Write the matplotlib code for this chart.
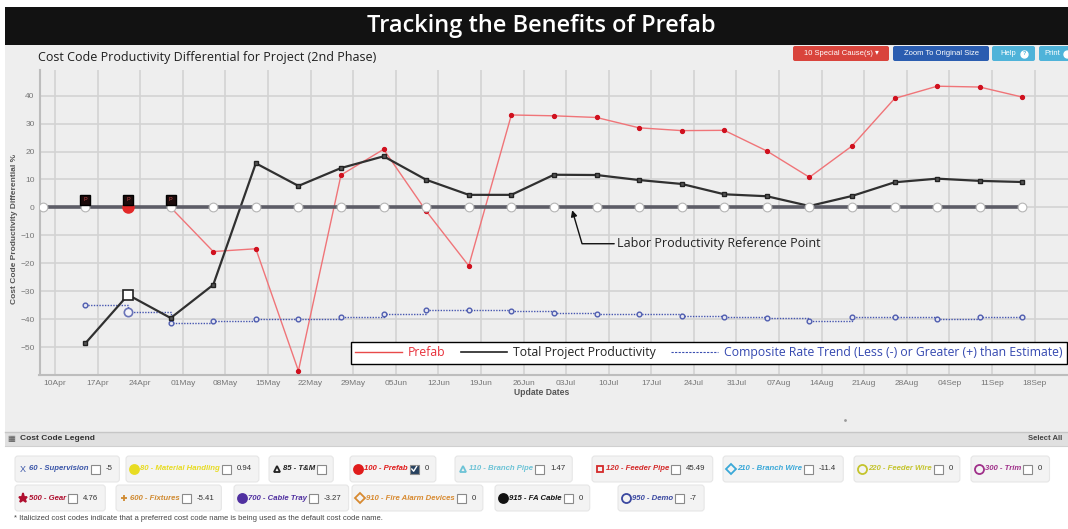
import datetime as dt
import numpy as np
import matplotlib
matplotlib.use("Agg")
import matplotlib.pyplot as plt
import matplotlib.dates as mdates
from matplotlib.lines import Line2D
from matplotlib.patches import Rectangle, FancyBboxPatch

plt.rcParams['font.family'] = ['Liberation Sans', 'DejaVu Sans']

W, H = 1068, 529

# ==============================
# 1. DATA
# ==============================
update_dates = ["2019-04-08", "2019-04-15", "2019-04-22", "2019-04-29",
                "2019-05-06", "2019-05-13", "2019-05-20", "2019-05-27",
                "2019-06-03", "2019-06-10", "2019-06-17", "2019-06-24",
                "2019-07-01", "2019-07-08", "2019-07-15", "2019-07-22",
                "2019-07-29", "2019-08-05", "2019-08-12", "2019-08-19",
                "2019-08-26", "2019-09-02", "2019-09-09", "2019-09-16"]
nan = np.nan
prefab = [nan, nan, nan, 0, -15.8, -14.8, -58.5, 11.6, 20.8, -1.3, -20.9, 33.1,
          32.8, 32.2, 28.5, 27.5, 27.6, 20.2, 10.8, 22.0, 39.0, 43.4, 43.1, 39.5]
total_project = [nan, -48.6, -31.3, -39.6, -27.7, 15.8, 7.7, 14.1, 18.3, 9.9, 4.5, 4.5,
                 11.7, 11.6, 9.8, 8.4, 4.7, 4.0, 0.5, 4.1, 9.0, 10.3, 9.5, 9.1]
composite_rate = [nan, -35.1, -37.6, -41.4, -40.6, -40.1, -39.9, -39.4, -38.2, -36.6,
                  -36.9, -37.2, -37.8, -38.3, -38.2, -38.8, -39.2, -39.5, -40.5,
                  -39.2, -39.3, -39.8, -39.3, -39.3]
reference = [0, 0, 0, 0, 0, 0, 0, 0, 0, 0, 0, 0,
             0, 0, 0, 0, 0, 0, 0, 0, 0, 0, 0, 0]

selected_idx = 2            # highlighted update
prefab_selected_value = 0
special_cause_idx = [1, 2, 3]
special_cause_value = 2.7

ref_arrow_date = "2019-07-04"
ref_arrow_value = -1

legend_labels = ["Prefab", "Total Project Productivity",
                 "Composite Rate Trend (Less (-) or Greater (+) than Estimate)"]

# cost code legend
cc_codes = ["60", "80", "85", "100", "110", "120", "210", "220", "300",
            "500", "600", "700", "910", "915", "950"]
cc_names = ["Supervision", "Material Handling", "T&M", "Prefab", "Branch Pipe",
            "Feeder Pipe", "Branch Wire", "Feeder Wire", "Trim",
            "Gear", "Fixtures", "Cable Tray", "Fire Alarm Devices", "FA Cable", "Demo"]
cc_values = ["-5", "0.94", "", "0", "1.47", "45.49", "-11.4", "0", "0",
             "4.76", "-5.41", "-3.27", "0", "0", "-7"]
cc_checked = [False, False, False, True, False, False, False, False, False,
              False, False, False, False, False, False]

# styles / layout of the cost code legend (kept apart from the values)
cc_colors = ["#3a55a8", "#e8dc22", "#222222", "#e01b1b", "#6cc3d6", "#d42a2a",
             "#3aa8d8", "#c4c42c", "#a0308a", "#b01030", "#d08a30", "#5030a0",
             "#d88a30", "#111111", "#3a48a0"]
cc_markers = ["X", "o", "^", "o", "^", "s", "D", "o", "o", "*", "+", "o", "D", "o", "o"]
cc_filled = [True, True, False, True, False, False, False, False, False,
             True, True, True, False, True, False]
cc_row = [0, 0, 0, 0, 0, 0, 0, 0, 0, 1, 1, 1, 1, 1, 1]
cc_left = [15, 126, 269, 350, 455, 592, 723, 854, 971,
           15, 116, 234, 352, 495, 618]

# ==============================
# 2. FIGURE + PAGE BACKGROUND
# ==============================
fig = plt.figure(figsize=(W / 100, H / 100), dpi=100, facecolor="white")
bg = fig.add_axes([0, 0, 1, 1], zorder=0)
bg.set_xlim(0, W)
bg.set_ylim(H, 0)
bg.axis("off")


def box(x0, y0, x1, y1, **kw):
    bg.add_patch(Rectangle((x0, y0), x1 - x0, y1 - y0, **kw))


box(5, 45, W, 432, fc="#eeeeee", ec="none")
box(5, 7, W, 45, fc="#121212", ec="none")
box(5, 432, W, 446, fc="#e0e0e0", ec="none")
bg.plot([5, W], [432, 432], color="#c6c6c6", lw=1)
bg.plot([5, W], [446, 446], color="#d0d0d0", lw=0.8)

bg.text(541, 26, "Tracking the Benefits of Prefab", color="white", fontsize=17,
        family="Open Sans", weight="semibold", ha="center", va="center")
bg.text(38, 58, "Cost Code Productivity Differential for Project (2nd Phase)",
        color="#1e1e1e", fontsize=9, family="Open Sans", ha="left", va="center")

# buttons (the last one is cut by the screenshot edge)
buttons = [("10 Special Cause(s) \u25be", 793, 889, "#d9443c"),
           ("Zoom To Original Size", 893, 989, "#2b5db0"),
           ("Help", 992, 1035, "#4fb3d9"),
           ("Print", 1039, 1080, "#4fb3d9")]
for label, x0, x1, col in buttons:
    bg.add_patch(FancyBboxPatch((x0, 46), x1 - x0, 15,
                                boxstyle="round,pad=0,rounding_size=2",
                                fc=col, ec="none"))
    if label == "Help":
        bg.text(x0 + 8, 53.5, label, color="white", fontsize=5.5, va="center")
        bg.plot(x0 + 32, 53.5, "o", ms=5, color="white")
        bg.text(x0 + 32, 53.8, "?", color=col, fontsize=4, weight="bold",
                ha="center", va="center")
    elif label == "Print":
        bg.text(x0 + 5, 53.5, label, color="white", fontsize=5.5, va="center")
        bg.plot(x0 + 28, 53.5, "o", ms=5, color="white")
    else:
        bg.text((x0 + x1) / 2, 53.5, label, color="white", fontsize=5.5,
                ha="center", va="center")

bg.plot(845, 420, ".", color="#9a9a9a", ms=2)

# ==============================
# 3. MAIN CHART
# ==============================
ax = fig.add_axes([39.5 / W, 1 - 375 / H, (W - 39.5) / W, (375 - 70) / H], zorder=1)
ax.set_facecolor("#eeeeee")

dates = [dt.datetime.strptime(d, "%Y-%m-%d") for d in update_dates]
x_first = mdates.date2num(dates[0])

ax.plot(dates, prefab, color="#f07478", lw=1, marker="o", ms=2.8,
        mfc="#d0101e", mec="#d0101e", zorder=3)
ax.plot(dates, composite_rate, color="#4656b0", lw=1, ls=(0, (1, 1)),
        drawstyle="steps-post", zorder=3)
ax.plot(dates, composite_rate, ls="none", marker="o", ms=3.4, mfc="#e6e6f0",
        mec="#4f5db0", mew=1, zorder=3)
ax.plot(dates, total_project, color="#303030", lw=1.6, marker="s", ms=2.6,
        mfc="#555555", mec="#222222", zorder=4)
ax.plot(dates, reference, color="#5c5c66", lw=2.6, marker="o", ms=6.3,
        mfc="white", mec="#b5b5b5", mew=0.8, zorder=5)

sel = dates[selected_idx]
ax.plot(sel, prefab_selected_value, "o", ms=8, color="#e22828", zorder=6)
ax.plot(sel, total_project[selected_idx], "s", ms=7, mfc="white", mec="#222222",
        mew=1.2, zorder=6)
ax.plot(sel, composite_rate[selected_idx], "o", ms=6, mfc="#f4f4f8", mec="#6a74b8",
        mew=1.2, zorder=6)

sc_dates = [dates[i] for i in special_cause_idx]
ax.plot(sc_dates, [special_cause_value] * len(sc_dates), "s", ms=7,
        mfc="#1c0c0c", mec="#000000", zorder=7)
for d in sc_dates:
    ax.text(d, special_cause_value, "P", fontsize=4, color="#c84a4a",
            ha="center", va="center", zorder=8)

ax.set_xlim(x_first - 0.56, x_first + 168.5)
ax.set_ylim(-60, 49.2)
ax.xaxis.set_major_locator(mdates.WeekdayLocator(byweekday=mdates.WE))
ax.xaxis.set_major_formatter(mdates.DateFormatter("%d%b"))
ax.set_yticks(range(-50, 41, 10))
ax.grid(True, color="#d3d3d3", lw=1.2)
ax.set_axisbelow(True)
ax.tick_params(length=0, labelsize=6, labelcolor="#777777", pad=3.5)
for s in ["top", "right"]:
    ax.spines[s].set_visible(False)
for s in ["left", "bottom"]:
    ax.spines[s].set_color("#bdbdbd")
    ax.spines[s].set_linewidth(1.5)

ax.set_ylabel("Cost Code Productivity Differential %", fontsize=6, weight="bold",
              color="#555555")
ax.yaxis.set_label_coords((18 - 39.5) / (W - 39.5), (375 - 229) / 305)
ax.set_xlabel("Update Dates", fontsize=6.2, weight="bold", color="#555555")
ax.xaxis.set_label_coords((542 - 39.5) / (W - 39.5), (375 - 388) / 305)

ax.annotate("Labor Productivity Reference Point",
            xy=(mdates.date2num(dt.datetime.strptime(ref_arrow_date, "%Y-%m-%d")),
                ref_arrow_value),
            xytext=(x_first + (617 - 42.7) / 6.086, -13.0),
            fontsize=9, family="Open Sans", color="#222222", ha="left", va="center",
            arrowprops=dict(arrowstyle="-|>", color="#111111", lw=1,
                            connectionstyle="angle,angleA=0,angleB=-73.6,rad=0",
                            shrinkA=0, shrinkB=0, mutation_scale=9),
            zorder=9)

handles = [Line2D([], [], color="#e84a4a", lw=1),
           Line2D([], [], color="#222222", lw=1.2),
           Line2D([], [], color="#3a4eb0", lw=0.8, ls=(0, (2, 1.2)))]
leg = ax.legend(handles, legend_labels, ncol=3, loc="upper left",
                bbox_to_anchor=(351 / W, 1 - 342 / H), bbox_transform=fig.transFigure,
                borderaxespad=0, frameon=True, fancybox=False, edgecolor="black",
                facecolor="white", framealpha=1,
                prop={"family": "Open Sans", "size": 8.8},
                handlelength=3.8, handletextpad=0.5, columnspacing=1.25,
                borderpad=0.35, labelcolor=["#e8303a", "#222222", "#3448b0"])
leg.get_frame().set_linewidth(1)
leg.set_zorder(20)

# ==============================
# 4. COST CODE LEGEND
# ==============================
bg.text(11, 439, "\u25a6", fontsize=6, color="#555555", ha="center", va="center",
        family=["DejaVu Sans"])
bg.text(20, 439, "Cost Code Legend", fontsize=6, weight="bold", color="#333333",
        va="center")
bg.text(1062, 439, "Select All", fontsize=5.5, weight="bold", color="#444444",
        ha="right", va="center")

renderer = fig.canvas.get_renderer()
row_y = [469, 498]
for i in range(len(cc_codes)):
    cy = row_y[cc_row[i]]
    x = cc_left[i] + 8
    col = cc_colors[i]
    if cc_markers[i] == "X":
        bg.text(x, cy, "X", fontsize=6.5, color=col, ha="center", va="center", zorder=3)
    else:
        ms = 6.5 if cc_markers[i] in ("o", "*") else 5
        bg.plot(x, cy, cc_markers[i], ms=ms, color=col,
                mfc=col if cc_filled[i] else "none", mew=1.3, zorder=3)
    t = bg.text(x + 6, cy, f"{cc_codes[i]} - {cc_names[i]}", fontsize=5.6,
                style="italic", weight="bold", color=col, va="center", zorder=3)
    r = t.get_window_extent(renderer).x1
    cx = r + 2
    bg.add_patch(Rectangle((cx, cy - 4.5), 9, 9,
                           fc="#27415f" if cc_checked[i] else "white",
                           ec="#8a8a8a", lw=0.8, zorder=3))
    if cc_checked[i]:
        bg.plot([cx + 2.2, cx + 4, cx + 7], [cy, cy + 2.2, cy - 2.5],
                color="white", lw=1, zorder=4)
    end = cx + 9
    if cc_values[i]:
        v = bg.text(cx + 15, cy, cc_values[i], fontsize=5.6, color="#333333",
                    va="center", zorder=3)
        end = v.get_window_extent(renderer).x1
    bg.add_patch(FancyBboxPatch((cc_left[i], cy - 13), end + 7 - cc_left[i], 26,
                                boxstyle="round,pad=0,rounding_size=3",
                                fc="#f3f3f3", ec="#e6e6e6", lw=0.8, zorder=1))

bg.text(14, 519, "* Italicized cost codes indicate that a preferred cost code name "
        "is being used as the default cost code name.", fontsize=5.5,
        color="#444444", va="center")

fig.savefig("out.png", dpi=100, facecolor="white")
